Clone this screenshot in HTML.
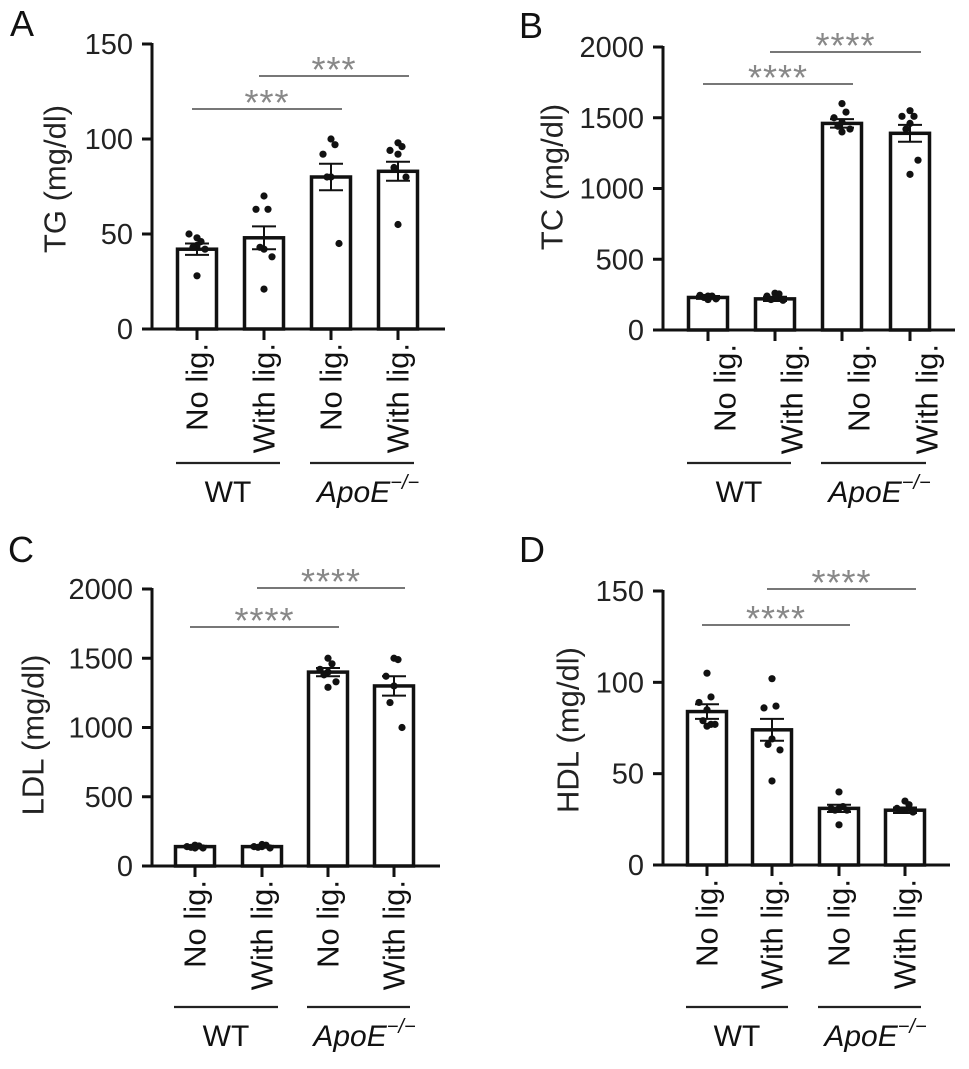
<!DOCTYPE html>
<html><head><meta charset="utf-8">
<style>
html,body{margin:0;padding:0;background:#fff;}
svg{display:block;font-family:"Liberation Sans",Arial,sans-serif;}
</style></head>
<body>
<svg id="fig" width="969" height="1069" viewBox="0 0 969 1069"></svg>
<script>
const categories = ["No lig.", "With lig.", "No lig.", "With lig."];
const groups = ["WT", "ApoE"];

const tgMeans = [42, 48, 80, 83];
const tgErrors = [3, 6, 7, 5];
const tgPoints = [[48,46,50,44,43,42,28],[70,63,63,42,43,38,21],[100,97,92,80,80,45],[98,96,94,92,85,80,55]];
const tgTicks = [0, 50, 100, 150];

const tcMeans = [230, 220, 1460, 1390];
const tcErrors = [10, 15, 30, 60];
const tcPoints = [[240,240,245,235,230,220,215],[260,255,240,225,215,210],[1600,1540,1500,1470,1440,1420,1400],[1550,1510,1510,1460,1420,1200,1100]];
const tcTicks = [0, 500, 1000, 1500, 2000];

const ldlMeans = [140, 140, 1400, 1300];
const ldlErrors = [5, 5, 30, 70];
const ldlPoints = [[150,145,140,140,135,130,130],[155,150,140,140,135,130],[1500,1460,1420,1400,1380,1330,1290],[1500,1490,1370,1300,1180,1000]];
const ldlTicks = [0, 500, 1000, 1500, 2000];

const hdlMeans = [84, 74, 31, 30];
const hdlErrors = [4, 6, 2, 1.5];
const hdlPoints = [[105,92,89,85,79,77,76,77],[102,87,86,69,66,63,46],[40,32,31,31,30,30,22],[35,33,31,30,30,29]];
const hdlTicks = [0, 50, 100, 150];

const svg = document.getElementById('fig');
const NS = 'http://www.w3.org/2000/svg';
function mk(tag, attrs, parent){
  const e = document.createElementNS(NS, tag);
  for (const k in attrs) e.setAttribute(k, attrs[k]);
  (parent || svg).appendChild(e);
  return e;
}

function panel(p){
  const g = mk('g', {});
  
  
  const ymax = p.ticks[p.ticks.length-1];
  const yS = v => p.y0 - (v/ymax)*(p.y0 - p.yTop);
  const xS = i => p.xs[i];

  const lt = mk('text', {x:p.lx, y:p.ly, 'font-size':36, fill:'#111'}, g);
  lt.textContent = p.letter;
  
  

  const ya = mk('line', {x1:p.ax, x2:p.ax, y1:yS(ymax)-1, y2:p.y0+1.5, stroke:'#111','stroke-width':3}, g);
  
  
  p.ticks.forEach(t => {
    const y = yS(t);
    const tk = mk('line', {x1:p.ax-10, x2:p.ax, y1:y, y2:y, stroke:'#111','stroke-width':3}, g);
    
    
    const tl = mk('text', {x:p.ax-19, y:y+10, 'font-size':29, 'text-anchor':'end', fill:'#222'}, g);
    tl.textContent = t;
    
    
  });
  const xa = mk('line', {x1:p.ax-10, x2:p.axEnd, y1:p.y0, y2:p.y0, stroke:'#111','stroke-width':3}, g);
  
  

  const yt = mk('text', {x:0, y:0, 'font-size':31, 'text-anchor':'middle', 'dominant-baseline':'central', fill:'#222', transform:`translate(${p.ytx},${p.yty}) rotate(-90)`}, g);
  yt.textContent = p.ytitle;
  
  

  p.means.forEach((m, i) => {
    const cx = xS(i);
    const bar = mk('rect', {x:cx-19.5, y:yS(m), width:39, height:p.y0-yS(m), fill:'#fff', stroke:'#111', 'stroke-width':3.5}, g);
    
    
    const e = p.errors[i];
    const eg = mk('g', {stroke:'#111','stroke-width':2}, g);
    
    
    mk('line', {x1:cx, x2:cx, y1:yS(m+e), y2:yS(m-e)}, eg);
    mk('line', {x1:cx-12, x2:cx+12, y1:yS(m+e), y2:yS(m+e)}, eg);
    mk('line', {x1:cx-12, x2:cx+12, y1:yS(m-e), y2:yS(m-e)}, eg);
    const pts = p.points[i];
    pts.forEach((v, j) => {
      const off = (j % 2 === 0 ? -1 : 1) * ((j % 3) * 4);
      const pt = mk('circle', {cx:cx + off, cy:yS(v), r:3.6, fill:'#111'}, g);
      
      
    });
    const xt = mk('line', {x1:cx, x2:cx, y1:p.y0, y2:p.y0+11, stroke:'#111','stroke-width':3}, g);
    
    
    const cl = mk('text', {x:0, y:0, 'font-size':31, 'text-anchor':'end', 'dominant-baseline':'central', fill:'#111', transform:`translate(${cx + p.labOff},${p.y0+14}) rotate(-90)`}, g);
    cl.textContent = categories[i];
    
    
  });

  [[0,1],[2,3]].forEach((pair, k) => {
    const x1 = xS(pair[0]) - 21, x2 = xS(pair[1]) + 16;
    const gl = mk('line', {x1:x1, x2:x2, y1:p.gy, y2:p.gy, stroke:'#222','stroke-width':2.2}, g);
    
    
    const gt = mk('text', {x:(x1+x2)/2 + (k ? 6 : 0), y:p.gy+39, 'font-size':30, 'text-anchor':'middle', fill:'#111'}, g);
    
    
    if (k) {
      gt.setAttribute('font-style', 'italic');
      gt.textContent = 'ApoE';
      const s = mk('tspan', {'font-size':20, dy:-13}, gt);
      s.textContent = '\u2212/\u2212';
    } else gt.textContent = 'WT';
  });

  p.sig.forEach(s => {
    const x1 = xS(s[0]) - 5, x2 = xS(s[1]) + 11;
    const sl = mk('line', {x1:x1, x2:x2, y1:s[2], y2:s[2], stroke:'#777','stroke-width':2}, g);
    
    
    const st = mk('text', {x:(x1+x2)/2, y:s[2]+6, 'font-size':36, 'text-anchor':'middle', fill:'#888', 'letter-spacing':1}, g);
    st.textContent = s[3];
    
    
  });
}

panel({letter:'A', lx:10, ly:36, ax:152, axEnd:445, y0:329, yTop:44, xs:[197,264,331,398], ticks:tgTicks,
  means:tgMeans, errors:tgErrors, points:tgPoints, ytitle:'TG (mg/dl)', ytx:55, yty:179, labOff:0, gy:463,
  sig:[[0,2,109,'***'],[1,3,76,'***']]});
panel({letter:'B', lx:519, ly:38, ax:663, axEnd:955, y0:330, yTop:47, xs:[708,775,842,910], ticks:tcTicks,
  means:tcMeans, errors:tcErrors, points:tcPoints, ytitle:'TC (mg/dl)', ytx:552, yty:177, labOff:17, gy:463,
  sig:[[0,2,84,'****'],[1,3,52,'****']]});
panel({letter:'C', lx:8, ly:562, ax:152, axEnd:440, y0:866, yTop:589, xs:[195,262,328,394], ticks:ldlTicks,
  means:ldlMeans, errors:ldlErrors, points:ldlPoints, ytitle:'LDL (mg/dl)', ytx:33, yty:735, labOff:0, gy:1007,
  sig:[[0,2,627,'****'],[1,3,588,'****']]});
panel({letter:'D', lx:519, ly:562, ax:663, axEnd:950, y0:865, yTop:591, xs:[707,772,839,905], ticks:hdlTicks,
  means:hdlMeans, errors:hdlErrors, points:hdlPoints, ytitle:'HDL (mg/dl)', ytx:568, yty:730, labOff:0, gy:1007,
  sig:[[0,2,625,'****'],[1,3,589,'****']]});
</script>
</body></html>
